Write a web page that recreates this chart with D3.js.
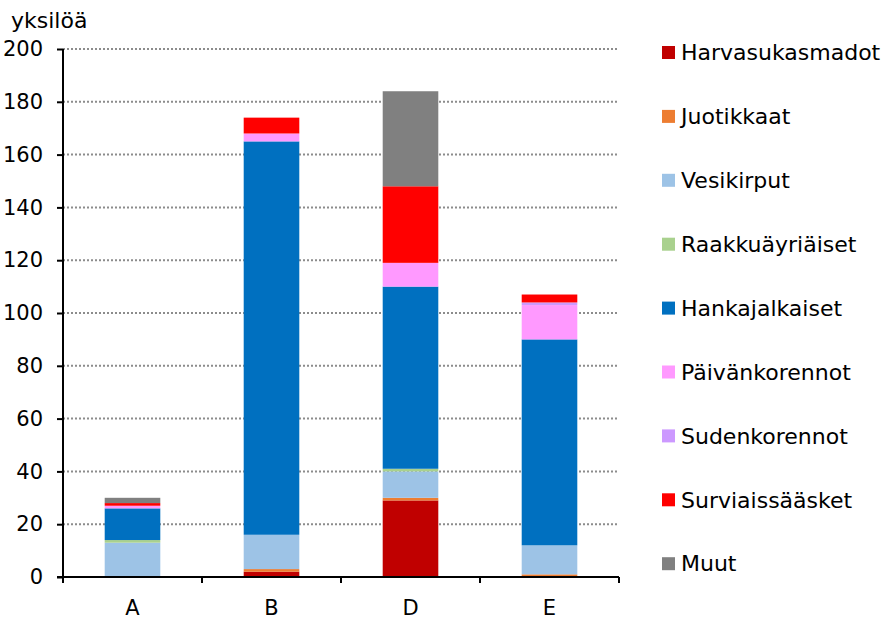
<!DOCTYPE html>
<html>
<head>
<meta charset="utf-8">
<script src="https://cdn.jsdelivr.net/npm/d3@7"></script>
<style>
  html, body { margin: 0; padding: 0; background: #fff; }
  svg { display: block; font-family: "DejaVu Sans", sans-serif; }
</style>
</head>
<body>
<svg id="chart" width="883" height="620"></svg>
<script>
// Sampling sites
const sites = ["A", "B", "D", "E"];

// Taxon groups, stacked bottom to top
const groups = ["Harvasukasmadot", "Juotikkaat", "Vesikirput", "Raakkuäyriäiset",
  "Hankajalkaiset", "Päivänkorennot", "Sudenkorennot", "Surviaissääsket", "Muut"];

// Individual counts per group, one value per site (A, B, D, E)
const harvasukasmadot = [0, 2, 29, 0];
const juotikkaat      = [0, 1, 1, 1];
const vesikirput      = [13, 13, 10, 11];
const raakkuayriaiset = [1, 0, 1, 0];
const hankajalkaiset  = [12, 149, 69, 78];
const paivankorennot  = [1, 3, 9, 13];
const sudenkorennot   = [0, 0, 0, 1];
const surviaissaasket = [1, 6, 29, 3];
const muut            = [2, 0, 36, 0];

const yTicks = [0, 20, 40, 60, 80, 100, 120, 140, 160, 180, 200];
const yTitle = "yksilöä";

const colors = ["#C00000", "#ED7D31", "#9DC3E6", "#A9D18E", "#0070C0",
  "#FF99FF", "#CC99FF", "#FF0000", "#808080"];

const seriesValues = [harvasukasmadot, juotikkaat, vesikirput, raakkuayriaiset,
  hankajalkaiset, paivankorennot, sudenkorennot, surviaissaasket, muut];

const rows = sites.map((s, i) => {
  const r = { site: s };
  groups.forEach((g, k) => { r[g] = seriesValues[k][i]; });
  return r;
});

const svg = d3.select("#chart");
const plotLeft = 63, plotRight = 619, plotTop = 49, plotBottom = 577;

const x = d3.scaleBand().domain(sites).range([plotLeft, plotRight]).paddingInner(0.6).paddingOuter(0.3);
const xEdge = d3.scaleLinear().domain([0, sites.length]).range([plotLeft, plotRight]);
const y = d3.scaleLinear().domain([0, 200]).range([plotBottom, plotTop]);
const color = d3.scaleOrdinal().domain(groups).range(colors);

// Dotted gridlines
svg.append("g")
  .selectAll("line")
  .data(yTicks.filter(t => t > 0))
  .join("line")
  .attr("x1", plotLeft).attr("x2", plotRight)
  .attr("y1", d => y(d)).attr("y2", d => y(d))
  .attr("stroke", "#8c8c8c")
  .attr("stroke-width", 2)
  .attr("stroke-dasharray", "2,2");

// Stacked bars
const stack = d3.stack().keys(groups)(rows);
svg.append("g")
  .selectAll("g")
  .data(stack)
  .join("g")
  .attr("fill", d => color(d.key))
  .selectAll("rect")
  .data(d => d)
  .join("rect")
  .attr("x", d => x(d.data.site))
  .attr("width", x.bandwidth())
  .attr("y", d => y(d[1]))
  .attr("height", d => y(d[0]) - y(d[1]));

// Y axis
const yAxis = d3.axisLeft(y).tickValues(yTicks).tickSize(6).tickPadding(14).tickSizeOuter(0);
const gy = svg.append("g").attr("transform", `translate(${plotLeft},0)`).call(yAxis);
gy.select(".domain").attr("stroke", "#000").attr("stroke-width", 2)
  .attr("d", `M0,${plotTop}V${plotBottom + 6}`);
gy.selectAll(".tick line").attr("stroke", "#000").attr("stroke-width", 2);
gy.selectAll(".tick text").attr("font-size", 21).attr("fill", "#000")
  .attr("font-family", "DejaVu Sans, sans-serif");

// X axis with ticks at category boundaries
const gx = svg.append("g");
gx.append("line")
  .attr("x1", plotLeft - 6).attr("x2", plotRight)
  .attr("y1", plotBottom).attr("y2", plotBottom)
  .attr("stroke", "#000").attr("stroke-width", 2);
gx.selectAll("line.edge")
  .data(d3.range(1, sites.length + 1))
  .join("line")
  .attr("class", "edge")
  .attr("x1", d => xEdge(d)).attr("x2", d => xEdge(d))
  .attr("y1", plotBottom).attr("y2", plotBottom + 6)
  .attr("stroke", "#000").attr("stroke-width", 2);
gx.selectAll("text")
  .data(sites)
  .join("text")
  .attr("x", d => x(d) + x.bandwidth() / 2)
  .attr("y", 615)
  .attr("text-anchor", "middle")
  .attr("font-size", 21)
  .attr("fill", "#000")
  .text(d => d);

// Axis title
svg.append("text")
  .attr("x", 11).attr("y", 28)
  .attr("font-size", 22)
  .attr("fill", "#000")
  .text(yTitle);

// Legend
const legend = svg.append("g")
  .selectAll("g")
  .data(groups)
  .join("g")
  .attr("transform", (d, i) => `translate(662,${52.5 + i * 63.9})`);
legend.append("rect")
  .attr("x", 0).attr("y", -6.5)
  .attr("width", 13).attr("height", 13)
  .attr("fill", d => color(d));
legend.append("text")
  .attr("x", 19).attr("y", 0)
  .attr("dy", "0.35em")
  .attr("font-size", 22)
  .attr("fill", "#000")
  .text(d => d);
</script>
</body>
</html>
